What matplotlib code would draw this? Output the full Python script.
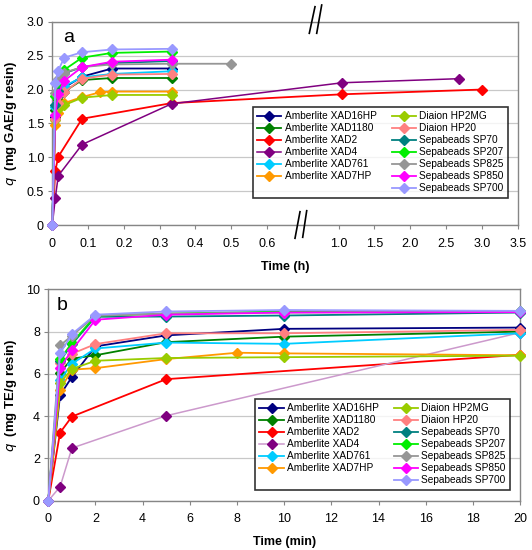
import matplotlib
matplotlib.use("Agg")
import matplotlib.pyplot as plt
from matplotlib.lines import Line2D
import numpy as np

plt.rcParams["font.family"] = ["Liberation Sans", "DejaVu Sans"]

names = ["Amberlite XAD16HP", "Amberlite XAD1180", "Amberlite XAD2", "Amberlite XAD4",
         "Amberlite XAD761", "Amberlite XAD7HP", "Diaion HP2MG", "Diaion HP20",
         "Sepabeads SP70", "Sepabeads SP207", "Sepabeads SP825", "Sepabeads SP850",
         "Sepabeads SP700"]
colors = ["#000080", "#008000", "#FF0000", "#800080", "#00CCFF", "#FF9900", "#99CC00",
          "#FF8080", "#008080", "#00EE00", "#969696", "#FF00FF", "#9999FF"]

# panel a: time in h, q in mg GAE/g resin
t_a = [0, 0.0083, 0.0167, 0.0333, 0.0833, 0.1667, 0.3333]
t_a_xad2 = [0, 0.0083, 0.0167, 0.0833, 0.3333, 1.05, 3.0]
t_a_xad4 = [0, 0.0083, 0.0167, 0.0833, 0.3333, 1.05, 2.68]
t_a_xad7 = [0, 0.0083, 0.0167, 0.0333, 0.0833, 0.1333, 0.1667, 0.3333]
t_a_sp825 = [0, 0.0083, 0.0167, 0.0333, 0.0833, 0.1667, 0.3333, 0.5]

q_a = {
    "Amberlite XAD16HP": [0, 1.60, 1.90, 2.03, 2.19, 2.31, 2.31],
    "Amberlite XAD1180": [0, 1.70, 1.85, 1.97, 2.14, 2.17, 2.17],
    "Amberlite XAD2": [0, 0.80, 1.01, 1.57, 1.80, 1.93, 2.00],
    "Amberlite XAD4": [0, 0.40, 0.73, 1.19, 1.79, 2.10, 2.16],
    "Amberlite XAD761": [0, 1.75, 1.92, 2.05, 2.18, 2.23, 2.27],
    "Amberlite XAD7HP": [0, 1.48, 1.66, 1.80, 1.89, 1.96, 1.97, 1.97],
    "Diaion HP2MG": [0, 1.55, 1.72, 1.77, 1.88, 1.92, 1.92],
    "Diaion HP20": [0, 1.57, 1.80, 1.96, 2.16, 2.22, 2.23],
    "Sepabeads SP70": [0, 1.77, 1.98, 2.24, 2.33, 2.39, 2.42],
    "Sepabeads SP207": [0, 1.90, 2.11, 2.29, 2.47, 2.54, 2.56],
    "Sepabeads SP825": [0, 1.95, 2.15, 2.25, 2.33, 2.37, 2.38, 2.38],
    "Sepabeads SP850": [0, 1.63, 1.93, 2.13, 2.33, 2.41, 2.44],
    "Sepabeads SP700": [0, 2.10, 2.28, 2.47, 2.55, 2.59, 2.60],
}
times_a = {"Amberlite XAD2": t_a_xad2, "Amberlite XAD4": t_a_xad4,
           "Amberlite XAD7HP": t_a_xad7, "Sepabeads SP825": t_a_sp825}

# panel b: time in min, q in mg TE/g resin
t_b = [0, 0.5, 1, 2, 5, 10, 20]
t_b_short = [0, 0.5, 1, 5, 20]
t_b_xad7 = [0, 0.5, 1, 2, 5, 8, 10, 20]

q_b = {
    "Amberlite XAD16HP": [0, 5.00, 5.85, 7.30, 7.82, 8.13, 8.19],
    "Amberlite XAD1180": [0, 6.05, 6.72, 6.88, 7.50, 7.76, 8.00],
    "Amberlite XAD2": [0, 3.22, 3.98, 5.75, 6.90],
    "Amberlite XAD4": [0, 0.66, 2.49, 4.02, 7.95],
    "Amberlite XAD761": [0, 5.71, 6.48, 7.20, 7.48, 7.42, 7.92],
    "Amberlite XAD7HP": [0, 5.24, 6.20, 6.27, 6.70, 7.00, 6.97, 6.88],
    "Diaion HP2MG": [0, 5.59, 6.23, 6.62, 6.75, 6.79, 6.86],
    "Diaion HP20": [0, 6.50, 6.95, 7.41, 7.92, 7.92, 8.08],
    "Sepabeads SP70": [0, 6.60, 7.40, 8.70, 8.71, 8.76, 8.90],
    "Sepabeads SP207": [0, 6.70, 7.46, 8.75, 8.85, 8.95, 8.95],
    "Sepabeads SP825": [0, 7.35, 7.80, 8.75, 8.85, 8.90, 8.95],
    "Sepabeads SP850": [0, 6.27, 7.12, 8.56, 8.80, 8.90, 8.92],
    "Sepabeads SP700": [0, 6.97, 7.88, 8.80, 8.95, 9.02, 8.98],
}
times_b = {"Amberlite XAD2": t_b_short, "Amberlite XAD4": t_b_short,
           "Amberlite XAD7HP": t_b_xad7}

xticks_a = [0, 0.1, 0.2, 0.3, 0.4, 0.5, 0.6, 1.0, 1.5, 2.0, 2.5, 3.0, 3.5]
xticklabels_a = ["0", "0.1", "0.2", "0.3", "0.4", "0.5", "0.6",
                 "1.0", "1.5", "2.0", "2.5", "3.0", "3.5"]
yticks_a = [0, 0.5, 1.0, 1.5, 2.0, 2.5, 3.0]
yticklabels_a = ["0", "0.5", "1.0", "1.5", "2.0", "2.5", "3.0"]
xticks_b = list(range(0, 21, 2))
yticks_b = list(range(0, 11, 2))

GRAY = "#868686"
MS = 5.0


# broken time axis: 0-0.6 h linear, 1.0-3.5 h compressed 5x
def fwd(x):
    x = np.asarray(x, dtype=float)
    return np.where(x <= 0.6, x,
                    np.where(x <= 1.0, 0.6 + (x - 0.6) * 0.5, 0.8 + (x - 1.0) * 0.2))


def inv(y):
    y = np.asarray(y, dtype=float)
    return np.where(y <= 0.6, y,
                    np.where(y <= 0.8, 0.6 + (y - 0.6) * 2.0, 1.0 + (y - 0.8) * 5.0))


def style_axes(ax):
    for sp in ax.spines.values():
        sp.set_color(GRAY)
        sp.set_linewidth(1.0)
    ax.yaxis.grid(True, color="#C8C8C8", linewidth=0.9)
    ax.set_axisbelow(True)
    ax.tick_params(direction="out", length=3, color=GRAY, labelsize=9)
    ax.tick_params(axis="x", pad=6)
    ax.tick_params(axis="y", pad=3)


def add_legend(ax, handles, anchor):
    blank = Line2D([], [], linestyle="none", marker="none")
    h = handles[:6] + [blank] + handles[6:]
    labels = names[:6] + [""] + names[6:]
    leg = ax.legend(h, labels, ncol=2, loc="lower right", bbox_to_anchor=anchor,
                    borderaxespad=0, fontsize=7.3, frameon=True, fancybox=False,
                    edgecolor="black", handlelength=2.4, handletextpad=0.3,
                    labelspacing=0.2, columnspacing=1.5, borderpad=0.45)
    leg.get_frame().set_linewidth(1.2)


fig = plt.figure(figsize=(5.32, 5.5), dpi=100)

# ---- panel a ----
ax1 = fig.add_axes([0.0983, 0.5904, 0.8748, 0.3702])
ax1.set_xscale("function", functions=(fwd, inv))
handles = []
for name, c in zip(names, colors):
    t = times_a.get(name, t_a)
    lw = 1.1 if name == "Amberlite XAD4" else 1.3
    ln, = ax1.plot(t, q_a[name], color=c, lw=lw, marker="D", markersize=MS,
                   markeredgecolor=c, clip_on=False, zorder=3)
    handles.append(ln)
ax1.set_xlim(0, 3.5)
ax1.set_ylim(0, 3.0)
ax1.set_xticks(xticks_a)
ax1.set_xticklabels(xticklabels_a)
ax1.minorticks_off()
ax1.set_yticks(yticks_a)
ax1.set_yticklabels(yticklabels_a)
style_axes(ax1)
ax1.set_xlabel("Time (h)", fontsize=9, fontweight="bold", labelpad=8)
ax1.set_ylabel("$q$  (mg GAE/g resin)", fontsize=9.5, fontweight="bold")
ax1.yaxis.set_label_coords(-0.071, 0.5)
ax1.text(0.03, 2.70, "a", fontsize=14)
add_legend(ax1, handles, (0.979, 0.134))

# break marks on the time axis
W, H = 532.0, 550.0
for (x0, y0, x1, y1) in [(309.3, 33.3, 315.0, 6.7), (316.7, 33.3, 321.7, 5.0),
                         (295.0, 238.3, 300.0, 211.7), (302.7, 237.3, 306.7, 210.7)]:
    fig.add_artist(Line2D([x0 / W, x1 / W], [1 - y0 / H, 1 - y1 / H],
                          color="black", lw=1.2, transform=fig.transFigure))

# ---- panel b ----
ax2 = fig.add_axes([0.0908, 0.0896, 0.8867, 0.3844])
handles = []
for name, c in zip(names, colors):
    t = times_b.get(name, t_b)
    if name == "Amberlite XAD4":
        ln, = ax2.plot(t, q_b[name], color="#CC99CC", lw=1.1, marker="D", markersize=MS,
                       markerfacecolor=c, markeredgecolor=c, clip_on=False, zorder=3)
    else:
        ln, = ax2.plot(t, q_b[name], color=c, lw=1.3, marker="D", markersize=MS,
                       markeredgecolor=c, clip_on=False, zorder=3)
    handles.append(ln)
ax2.set_xlim(0, 20)
ax2.set_ylim(0, 10)
ax2.set_xticks(xticks_b)
ax2.set_yticks(yticks_b)
style_axes(ax2)
ax2.set_xlabel("Time (min)", fontsize=9, fontweight="bold", labelpad=8)
ax2.set_ylabel("$q$  (mg TE/g resin)", fontsize=9.5, fontweight="bold")
ax2.yaxis.set_label_coords(-0.062, 0.5)
ax2.text(0.35, 9.0, "b", fontsize=14)
add_legend(ax2, handles, (0.979, 0.051))

fig.savefig("out.png", dpi=100)
